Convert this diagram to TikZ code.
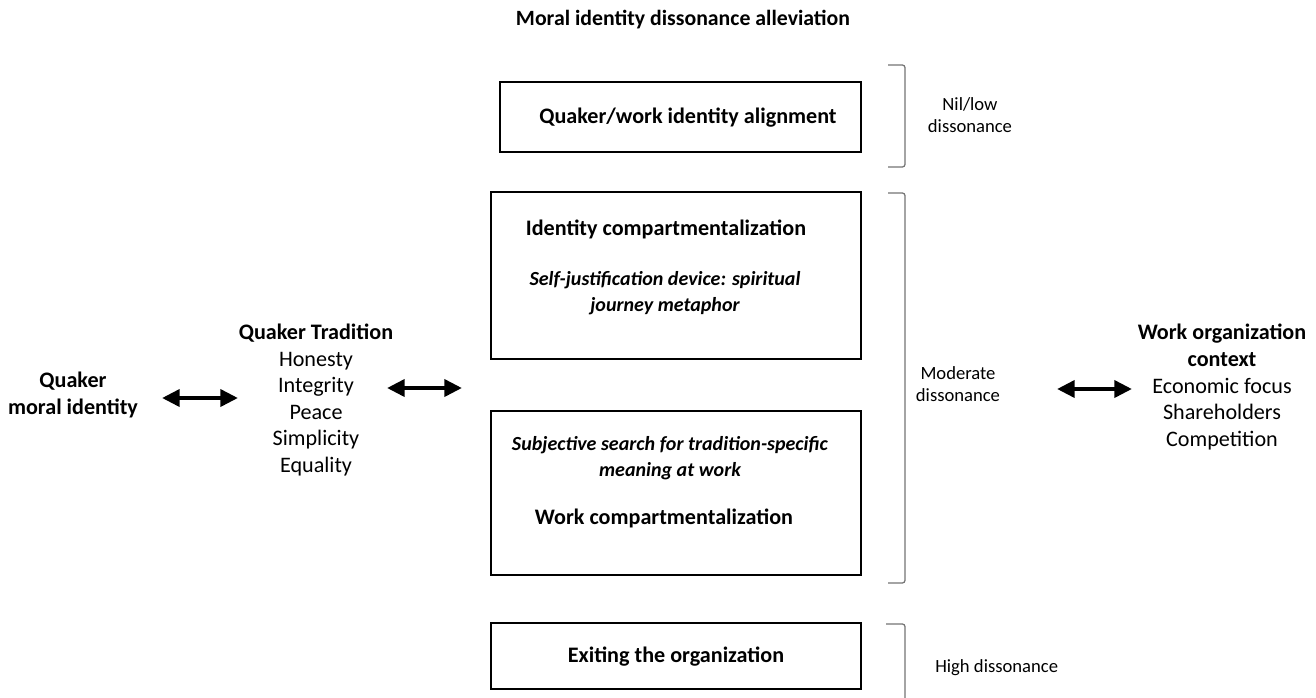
\documentclass[tikz,border=0pt]{standalone}
\usepackage{fontspec}
\setmainfont{Carlito}
\usetikzlibrary{arrows.meta}
\tikzset{
    stagebox/.style={draw, line width=1.2pt, inner sep=0pt, outer sep=0pt},
    biarrow/.style={line width=2.4pt, {Triangle[length=10pt,width=9.5pt]}-{Triangle[length=10pt,width=9.5pt]}},
    bracket/.style={draw=black!55, line width=0.7pt, rounded corners=1.5pt},
    txt/.style={align=center, font=\fontsize{12.6}{15.1}\selectfont, inner sep=0pt},
    boxhead/.style={txt, font=\fontsize{12.6}{15.1}\selectfont\bfseries},
    boxnote/.style={txt, font=\fontsize{11.4}{14.7}\selectfont\bfseries\itshape},
    small/.style={align=center, font=\fontsize{10.6}{12.8}\selectfont, inner sep=0pt}
}
\begin{document}
\begin{tikzpicture}[x=0.02cm, y=-0.02cm]
    \useasboundingbox (0,0) rectangle (1316,697);

    \node[boxhead, font=\fontsize{12.4}{15}\selectfont\bfseries] (title) at (683,20) {Moral identity dissonance alleviation};

    \node[stagebox, minimum width=7.22cm, minimum height=1.4cm] (align) at (680.5,117) {};
    \node[boxhead] (aligntxt) at (688,118) {Quaker/work identity alignment};

    \node[stagebox, minimum width=7.4cm, minimum height=3.34cm] (idcomp) at (676,275.5) {};
    \node[boxhead] (idcomptxt) at (666,229) {Identity compartmentalization};
    \node[boxnote] (selfjust) at (665,293) {Self-justification device: spiritual\\journey metaphor};

    \node[stagebox, minimum width=7.4cm, minimum height=3.28cm] (workcomp) at (676,493) {};
    \node[boxnote] (search) at (670,458) {Subjective search for tradition-specific\\meaning at work};
    \node[boxhead] (workcomptxt) at (664,518) {Work compartmentalization};

    \node[stagebox, minimum width=7.4cm, minimum height=1.32cm] (exit) at (676,656) {};
    \node[boxhead] (exittxt) at (676,657) {Exiting the organization};

    \draw[bracket] (888,65) -- (905,65) -- (905,167) -- (888,167);
    \draw[bracket] (888,193) -- (905,193) -- (905,583) -- (888,583);
    \draw[bracket] (886,624) -- (905,624) -- (905,710);

    \node[small] (nil) at (970,115) {Nil/low\\dissonance};
    \node[small] (moderate) at (958,384) {Moderate\\dissonance};
    \node[small, anchor=west] (high) at (935,668) {High dissonance};

    \node[boxhead] (qmi) at (73,395) {Quaker\\moral identity};
    \node[txt] (trad) at (316,400) {\textbf{Quaker Tradition}\\Honesty\\Integrity\\Peace\\Simplicity\\Equality};
    \node[txt] (workorg) at (1222,387) {\textbf{Work organization}\\\textbf{context}\\Economic focus\\Shareholders\\Competition};

    \coordinate (a1) at (162,398);
    \coordinate (b1) at (238,398);
    \coordinate (a2) at (387,388);
    \coordinate (b2) at (462,388);
    \coordinate (a3) at (1057,389);
    \coordinate (b3) at (1132,389);
    \draw[biarrow] (a1) -- (b1);
    \draw[biarrow] (a2) -- (b2);
    \draw[biarrow] (a3) -- (b3);
\end{tikzpicture}
\end{document}
